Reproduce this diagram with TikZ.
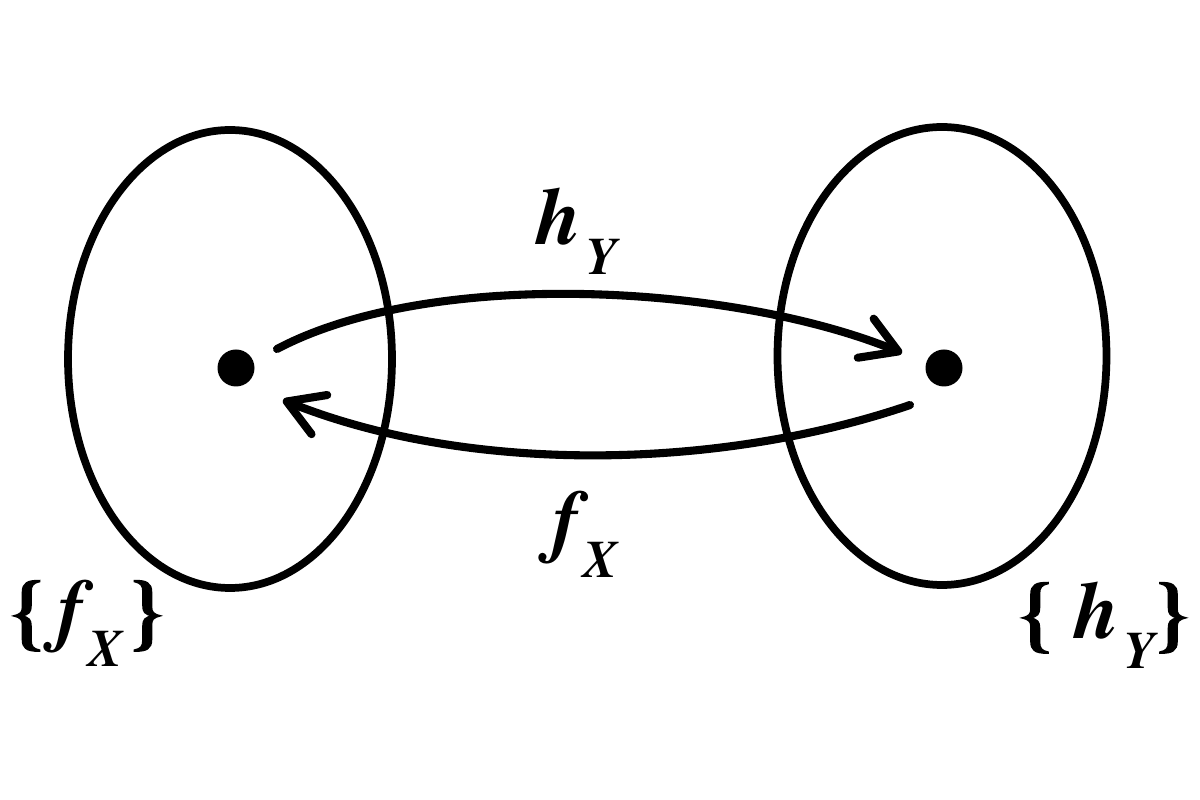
\documentclass[tikz,border=0pt]{standalone}
\usepackage{fontspec}
\setmainfont{TeX Gyre Termes}
\usetikzlibrary{arrows.meta,shapes.geometric}
\newcommand{\fnlbl}[2]{#1\kern1pt\raisebox{-8.5pt}{\fontsize{15pt}{15pt}\selectfont #2}}
\newcommand{\brc}[1]{\textup{\addfontfeature{FakeBold=2}#1}}

\begin{document}
\begin{tikzpicture}[
  set/.style={draw, ellipse, line width=2.2pt, inner sep=0pt},
  pt/.style={circle, fill=black, minimum size=0.37cm, inner sep=0pt},
  map/.style={line width=2.3pt, line cap=round, -{Straight Barb[length=10pt, width=12pt, line cap=round, line join=round]}},
  lbl/.style={anchor=base, inner sep=0pt, font=\fontsize{23pt}{23pt}\selectfont\bfseries\itshape},
]%
\useasboundingbox (0,0) rectangle (12,-8);%
\node[set, minimum width=3.24cm, minimum height=4.58cm] (fset) at (2.30,-3.59) {};%
\node[set, minimum width=3.29cm, minimum height=4.58cm] (hset) at (9.42,-3.56) {};%
\node[pt] (fpt) at (2.36,-3.68) {};%
\node[pt] (hpt) at (9.44,-3.68) {};%
\draw[map] ([shift={(0.41,0.19)}]fpt.center) .. controls +(1.53,0.81) and +(-1.72,0.70) .. ([shift={(-0.42,0.15)}]hpt.center);%
\draw[map] ([shift={(-0.34,-0.37)}]hpt.center) .. controls +(-1.90,-0.65) and +(1.87,-0.75) .. ([shift={(0.47,-0.32)}]fpt.center);%
\node[lbl] (hlbl) at (5.77,-2.45) {\fnlbl{h}{Y}};%
\node[lbl] (flbl) at (5.85,-5.48) {\fnlbl{f}{X}};%
\node[lbl] (fsetlbl) at (0.87,-6.37) {\brc{\{}\,\fnlbl{f}{X}\kern2pt\brc{\}}};%
\node[lbl] (hsetlbl) at (11.04,-6.39) {\brc{\{}\;\fnlbl{h}{Y}\brc{\}}};%
\end{tikzpicture}
\end{document}
